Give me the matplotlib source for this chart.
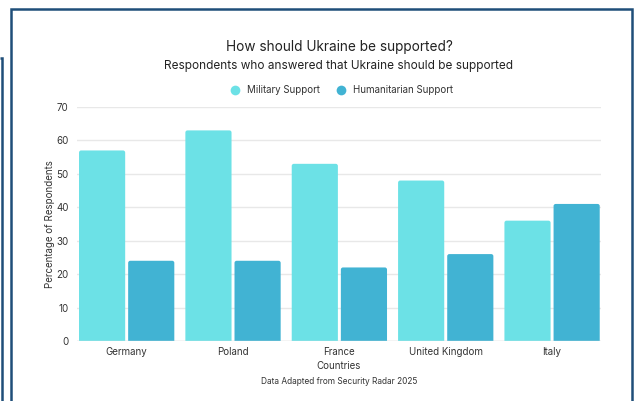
import matplotlib
matplotlib.use("Agg")
import matplotlib.pyplot as plt
from matplotlib.lines import Line2D
from matplotlib.patches import FancyBboxPatch
import numpy as np

countries = ["Germany", "Poland", "France", "United Kingdom", "Italy"]
military = [57, 63, 53, 48, 36]
humanitarian = [24, 24, 22, 26, 41]

plt.rcParams["font.family"] = ["Inter", "DejaVu Sans"]
TXT = "#333333"
C_MIL = "#6ce1e6"
C_HUM = "#41b3d3"
FRAME = "#1f4e79"

fig = plt.figure(figsize=(6.34, 4.01), dpi=100)
ax = fig.add_axes([77 / 634, 1 - 341 / 401, 524 / 634, 234 / 401])

x = np.arange(len(countries))
w = 0.434
off = 0.231
b1 = ax.bar(x - off, military, w, color=C_MIL, zorder=3)
b2 = ax.bar(x + off, humanitarian, w, color=C_HUM, zorder=3)

# rounded tops
for bars in (b1, b2):
    for r in bars:
        fb = FancyBboxPatch((r.get_x(), r.get_y() - 2), r.get_width(), r.get_height() + 2,
                            boxstyle="round,pad=0,rounding_size=0.02",
                            mutation_aspect=32, fc=r.get_facecolor(), ec="none", zorder=3)
        ax.add_patch(fb)
        r.remove()

ax.set_xlim(-0.467, 4.46)
ax.set_ylim(0, 70)
ax.set_yticks(range(0, 71, 10))
ax.set_xticks(x)
ax.set_xticklabels(countries)
ax.tick_params(length=0, labelsize=7, colors=TXT, pad=4)
ax.tick_params(axis="y", pad=6)
ax.grid(axis="y", color="#e8e8e8", lw=1, zorder=0)
for s in ax.spines.values():
    s.set_visible(False)
ax.axhline(0, color="#dddddd", lw=1, zorder=4)
ax.set_ylabel("Percentage of Respondents", fontsize=7, color=TXT, labelpad=1)
ax.set_xlabel("Countries", fontsize=7, color=TXT, labelpad=3)

fig.text(339 / 634, 1 - 47 / 401, "How should Ukraine be supported?", ha="center", va="center",
         fontsize=9.8, color="#222222")
fig.text(339 / 634, 1 - 66 / 401, "Respondents who answered that Ukraine should be supported",
         ha="center", va="center", fontsize=8.5, color="#222222")
fig.text(339 / 634, 1 - 381 / 401, "Data Adapted from Security Radar 2025", ha="center",
         va="center", fontsize=6, color=TXT)

handles = [Line2D([], [], marker="o", ls="none", ms=7, mfc=C_MIL, mec="none"),
           Line2D([], [], marker="o", ls="none", ms=7, mfc=C_HUM, mec="none")]
fig.legend(handles, ["Military Support", "Humanitarian Support"], loc="center",
           bbox_to_anchor=(339 / 634, 1 - 90 / 401), ncol=2, frameon=False, fontsize=7,
           handletextpad=0.2, columnspacing=1.2, labelcolor=TXT)

# frame lines
def fl(xs, ys, lw=1.8):
    fig.add_artist(Line2D([v / 634 for v in xs], [1 - v / 401 for v in ys],
                          color=FRAME, lw=lw, solid_capstyle="butt", solid_joinstyle="miter"))

fl([10.5, 10.5, 632, 632], [401, 8.5, 8.5, 401])
fl([0, 2, 2], [58, 58, 401])

fig.savefig("out.png", dpi=100)
